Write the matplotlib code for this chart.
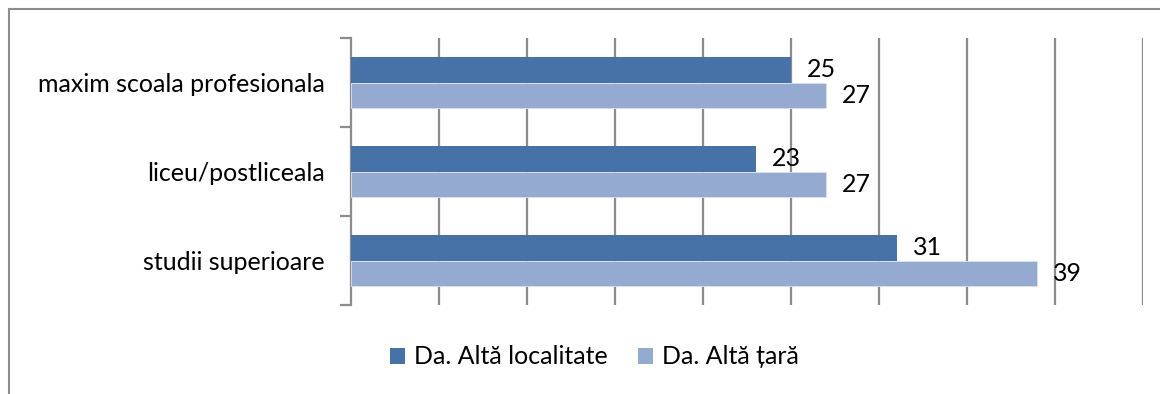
import matplotlib
matplotlib.use("Agg")
import matplotlib.pyplot as plt
from matplotlib.lines import Line2D
from matplotlib.patches import Patch
import numpy as np

plt.rcParams['font.family'] = ['Lato', 'DejaVu Sans']

categories = ["maxim scoala profesionala", "liceu/postliceala", "studii superioare"]
series_names = ["Da. Altă localitate", "Da. Altă țară"]
alta_localitate = [25, 23, 31]
alta_tara = [27, 27, 39]

dark = "#4672A8"
light = "#95AAD0"
grid_col = "#8C8C8C"
fs = 18

fig = plt.figure(figsize=(11.6, 3.94), dpi=100)
ax = fig.add_axes([351 / 1160, 1 - 305 / 394, (1143 - 351) / 1160, (305 - 38) / 394])

y = np.arange(len(categories))
h = 0.285
b1 = ax.barh(y - h / 2, alta_localitate, height=h, color=dark, zorder=3)
b2 = ax.barh(y + h / 2, alta_tara, height=h, color=light, zorder=3,
             edgecolor="#DCE3F0", linewidth=0.6)

for bars, vals in ((b1, alta_localitate), (b2, alta_tara)):
    for bar, v in zip(bars, vals):
        ax.annotate(f"{v}", xy=(v, bar.get_y() + bar.get_height() / 2),
                    xytext=(16, 0), textcoords="offset pixels",
                    ha="left", va="center", fontsize=fs, color="black")

ax.set_xlim(0, 45)
ax.set_ylim(len(categories) - 0.5, -0.5)
ax.set_xticks(np.arange(5, 46, 5))
ax.tick_params(axis="x", length=0, labelbottom=False)
ax.xaxis.grid(True, color=grid_col, linewidth=1.6, zorder=0)

ax.set_yticks(y)
ax.set_yticklabels(categories, fontsize=fs)
ax.tick_params(axis="y", length=0, pad=19)
ax.set_yticks(np.arange(-0.5, len(categories)), minor=True)
ax.tick_params(axis="y", which="minor", length=8, width=1.6, color=grid_col)

for side in ("top", "right", "bottom"):
    ax.spines[side].set_visible(False)
ax.spines["left"].set_color(grid_col)
ax.spines["left"].set_linewidth(1.6)

# chart frame
fig.add_artist(Line2D([8.5 / 1160, 8.5 / 1160], [0, 1 - 8.5 / 394],
                      transform=fig.transFigure, color=grid_col, lw=1.5))
fig.add_artist(Line2D([8.5 / 1160, 1], [1 - 8.5 / 394, 1 - 8.5 / 394],
                      transform=fig.transFigure, color=grid_col, lw=1.5))

handles = [Patch(facecolor=dark), Patch(facecolor=light)]
fig.legend(handles, series_names, loc="center", bbox_to_anchor=(0.5125, 1 - 357 / 394),
           ncol=2, frameon=False, fontsize=fs, handlelength=0.6, handleheight=0.6,
           handletextpad=0.35, columnspacing=1.2)

fig.savefig("out.png", dpi=100)
